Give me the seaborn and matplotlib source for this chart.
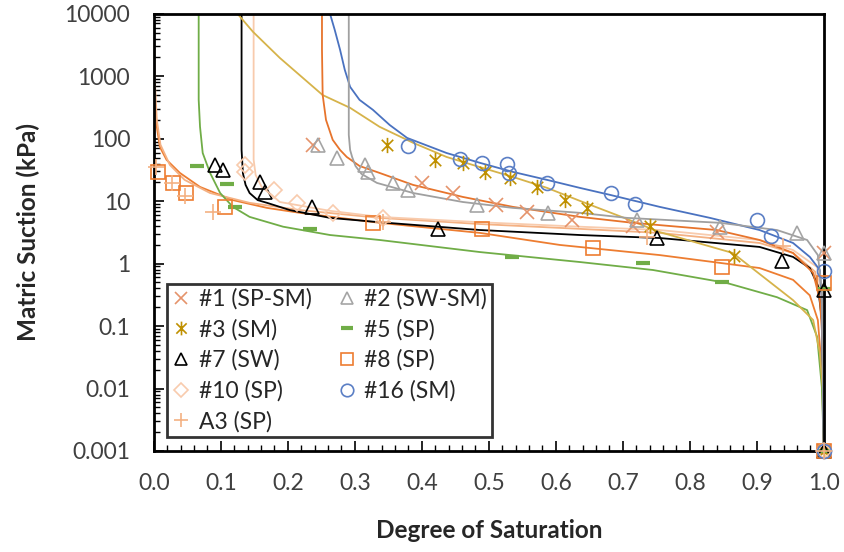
import matplotlib
matplotlib.use('Agg')
import matplotlib.pyplot as plt
from matplotlib.path import Path
from matplotlib.ticker import MultipleLocator, LogLocator, FuncFormatter, NullFormatter
import seaborn as sns

# measured points (degree of saturation, suction kPa)
s1_x = [0.237, 0.401, 0.446, 0.510, 0.557, 0.624, 0.715, 0.840, 1.0, 1.0]
s1_y = [80, 19.6, 13.5, 8.7, 6.7, 5.0, 4.0, 3.2, 1.5, 0.001]
s2_x = [0.245, 0.273, 0.315, 0.319, 0.357, 0.379, 0.482, 0.588, 0.721, 0.845, 0.960, 1.0, 1.0]
s2_y = [80, 49, 38, 29, 19.6, 15.1, 8.7, 6.5, 5.0, 3.9, 3.1, 1.5, 0.001]
s3_x = [0.348, 0.419, 0.461, 0.494, 0.531, 0.572, 0.613, 0.646, 0.740, 0.866, 1.0]
s3_y = [80, 46, 41, 29, 23.6, 16.9, 10.4, 7.8, 4.0, 1.32, 0.001]
s5_x = [0.064, 0.110, 0.121, 0.233, 0.534, 0.730, 0.848, 1.0, 1.0]
s5_y = [36.7, 18.8, 8.1, 3.6, 1.28, 1.02, 0.51, 0.39, 0.001]
s7_x = [0.091, 0.103, 0.158, 0.166, 0.236, 0.424, 0.751, 0.937, 1.0, 1.0]
s7_y = [38, 31.6, 20.3, 14, 8.1, 3.6, 2.57, 1.10, 0.38, 0.001]
s8_x = [0.006, 0.028, 0.048, 0.107, 0.327, 0.490, 0.655, 0.848, 1.0, 1.0]
s8_y = [29.4, 19.6, 13.5, 8.1, 4.5, 3.6, 1.78, 0.88, 0.49, 0.001]
s10_x = [0.136, 0.136, 0.179, 0.213, 0.267, 0.342, 1.0]
s10_y = [38, 29, 15.1, 9.4, 6.5, 5.4, 0.001]
s16_x = [0.379, 0.457, 0.490, 0.527, 0.530, 0.587, 0.682, 0.718, 0.900, 0.921, 1.0, 1.0]
s16_y = [77, 47, 41, 39.5, 28, 19.6, 13.5, 9.0, 5.0, 2.77, 0.76, 0.001]
a3_x = [0.004, 0.027, 0.046, 0.088, 0.342, 0.736, 0.939, 1.0]
a3_y = [35, 19.6, 12.1, 6.7, 4.6, 2.67, 1.91, 0.001]

# fitted curves
c1_x = [0.251, 0.251, 0.252, 0.257, 0.267, 0.278, 0.288, 0.307, 0.337, 0.387, 0.461, 0.536, 0.636, 0.715, 0.840, 0.904, 0.954, 0.984, 0.994, 1.0, 1.0]
c1_y = [10000, 2650, 504, 200, 96, 66, 51, 36.6, 28.3, 18.2, 11.7, 8.1, 5.6, 4.5, 3.45, 2.39, 1.48, 0.71, 0.26, 0.0285, 0.001]
c2_x = [0.291, 0.291, 0.291, 0.293, 0.296, 0.301, 0.310, 0.333, 0.387, 0.461, 0.536, 0.636, 0.706, 0.845, 0.930, 0.975, 0.991, 0.997, 1.0]
c2_y = [10000, 419, 115, 66, 51, 36.6, 27.3, 19.6, 13.5, 9.7, 7.8, 6.5, 5.4, 4.5, 3.45, 2.39, 1.37, 0.38, 0.001]
c3_x = [0.125, 0.148, 0.188, 0.252, 0.293, 0.337, 0.387, 0.437, 0.487, 0.536, 0.587, 0.636, 0.700, 0.755, 0.864, 0.954, 0.984, 0.994, 1.0, 1.0]
c3_y = [10000, 5150, 1970, 500, 312, 155, 86, 51, 35, 24.4, 16.3, 10.1, 5.5, 3.2, 1.48, 0.26, 0.125, 0.037, 0.0059, 0.001]
c5_x = [0.067, 0.067, 0.069, 0.073, 0.084, 0.099, 0.118, 0.143, 0.193, 0.263, 0.337, 0.487, 0.636, 0.745, 0.855, 0.930, 0.975, 0.990, 0.997, 1.0]
c5_y = [10000, 419, 155, 59, 28.3, 13.5, 8.1, 5.6, 3.9, 2.87, 2.39, 1.53, 1.06, 0.79, 0.49, 0.29, 0.18, 0.067, 0.0105, 0.001]
c7_x = [0.131, 0.131, 0.131, 0.133, 0.137, 0.143, 0.155, 0.169, 0.203, 0.263, 0.337, 0.487, 0.636, 0.755, 0.904, 0.954, 0.979, 0.991, 0.997, 1.0]
c7_y = [10000, 419, 66, 28, 18.2, 13.5, 10.4, 9.4, 7.2, 5.4, 4.6, 3.45, 2.87, 2.57, 1.85, 1.28, 0.85, 0.45, 0.125, 0.001]
c8_x = [0.0, 0.0, 0.0015, 0.0045, 0.009, 0.019, 0.039, 0.069, 0.118, 0.169, 0.218, 0.337, 0.487, 0.606, 0.755, 0.904, 0.954, 0.979, 0.991, 0.997, 1.0]
c8_y = [10000, 1830, 419, 155, 74, 46, 28.3, 16.9, 10.4, 7.8, 6.5, 4.5, 3.1, 1.99, 1.37, 0.85, 0.55, 0.31, 0.125, 0.0197, 0.001]
c10_x = [0.149, 0.149, 0.149, 0.152, 0.161, 0.176, 0.188, 0.263, 0.337, 0.487, 0.636, 0.755, 0.904, 0.954, 0.990, 0.997, 1.0]
c10_y = [10000, 419, 46, 26.3, 16.9, 12.6, 9.7, 7.0, 5.6, 4.6, 3.9, 3.45, 2.39, 1.65, 0.88, 0.26, 0.001]
c16_x = [0.263, 0.270, 0.278, 0.285, 0.293, 0.307, 0.327, 0.352, 0.378, 0.437, 0.487, 0.536, 0.587, 0.636, 0.681, 0.755, 0.830, 0.904, 0.954, 0.979, 0.994, 0.997, 1.0]
c16_y = [10000, 5540, 2650, 1270, 676, 419, 290, 166, 103, 59, 41, 29.4, 21.9, 16.3, 12.6, 8.1, 5.4, 3.45, 2.14, 1.28, 0.79, 0.26, 0.001]
ca3_x = [0.0, 0.0015, 0.0045, 0.010, 0.024, 0.046, 0.084, 0.143, 0.218, 0.337, 0.487, 0.636, 0.755, 0.904, 0.954, 0.987, 0.997, 1.0]
ca3_y = [10000, 875, 200, 80, 38, 21.9, 13.5, 9.4, 7.2, 5.4, 4.3, 3.6, 3.1, 2.14, 1.48, 0.74, 0.18, 0.001]

labels = ['#1 (SP-SM)', '#2 (SW-SM)', '#3 (SM)', '#5 (SP)', '#7 (SW)',
          '#8 (SP)', '#10 (SP)', '#16 (SM)', 'A3 (SP)']

sns.set_style('ticks')
plt.rcParams['font.family'] = ['Lato', 'DejaVu Sans']

# asterisk marker like excel: vertical bar plus an x
star = Path([(0, -1), (0, 1), (-0.75, -0.75), (0.75, 0.75), (-0.75, 0.75), (0.75, -0.75)],
            [Path.MOVETO, Path.LINETO, Path.MOVETO, Path.LINETO, Path.MOVETO, Path.LINETO])

fig, ax = plt.subplots(figsize=(8.45, 5.52), dpi=100)
fig.subplots_adjust(left=0.182, right=0.975, top=0.975, bottom=0.183)
ax.set_yscale('log')

curves = [
    (c8_x, c8_y, '#ED7D31'),
    (ca3_x, ca3_y, '#F4B183'),
    (c5_x, c5_y, '#70AD47'),
    (c7_x, c7_y, '#000000'),
    (c10_x, c10_y, '#F8CBAD'),
    (c3_x, c3_y, '#D6B34A'),
    (c1_x, c1_y, '#E7742C'),
    (c16_x, c16_y, '#4A72C0'),
    (c2_x, c2_y, '#A0A0A0'),
]
for cx, cy, col in curves:
    sns.lineplot(x=cx, y=cy, sort=False, estimator=None, color=col, lw=1.3, ax=ax)

series = {
    '#1 (SP-SM)': (s1_x, s1_y, 'x', '#E5936B', 10, 1.2),
    '#2 (SW-SM)': (s2_x, s2_y, '^', '#A5A5A5', 10, 1.2),
    '#3 (SM)': (s3_x, s3_y, star, '#BF9000', 11, 1.2),
    '#5 (SP)': (s5_x, s5_y, '_', '#70AD47', 10, 3),
    '#7 (SW)': (s7_x, s7_y, '^', '#000000', 10, 1.2),
    '#8 (SP)': (s8_x, s8_y, 's', '#ED7D31', 10, 1.2),
    '#10 (SP)': (s10_x, s10_y, 'D', '#F8CBAD', 8, 1.2),
    '#16 (SM)': (s16_x, s16_y, 'o', '#5B7FC5', 10, 1.2),
    'A3 (SP)': (a3_x, a3_y, '+', '#F4B183', 11, 1.2),
}
handles = {}
for lab in labels:
    x, y, m, col, ms, mew = series[lab]
    h, = ax.plot(x, y, ls='none', marker=m, ms=ms, mew=mew, mec=col, mfc='none',
                 color=col, clip_on=False, zorder=5)
    handles[lab] = h

ax.set_xlim(0, 1)
ax.set_ylim(0.001, 10000)
ax.xaxis.set_major_locator(MultipleLocator(0.1))
ax.xaxis.set_minor_locator(MultipleLocator(0.02))
ax.xaxis.set_major_formatter(FuncFormatter(lambda v, p: f'{v:.1f}'))
ax.yaxis.set_major_locator(LogLocator(base=10, numticks=20))
ax.yaxis.set_minor_locator(LogLocator(base=10, subs=range(2, 10), numticks=20))
ax.yaxis.set_major_formatter(FuncFormatter(lambda v, p: f'{v:g}'))
ax.yaxis.set_minor_formatter(NullFormatter())
ax.tick_params(axis='both', which='both', direction='in', labelsize=16.5,
               labelcolor='#404040', color='black')
ax.tick_params(axis='x', which='major', length=7, width=1.2, pad=16)
ax.tick_params(axis='y', which='major', length=7, width=1.2, pad=17)
ax.tick_params(axis='both', which='minor', length=4, width=1)
for sp in ax.spines.values():
    sp.set_visible(True)
    sp.set_linewidth(2)
    sp.set_color('black')

ax.set_xlabel('Degree of Saturation', fontsize=17.5, fontweight='bold', color='#262626')
ax.set_ylabel('Matric Suction (kPa)', fontsize=17.5, fontweight='bold', color='#262626')
ax.xaxis.set_label_coords(0.5, -0.155)
ax.yaxis.set_label_coords(-0.17, 0.5)

order = ['#1 (SP-SM)', '#3 (SM)', '#7 (SW)', '#10 (SP)', 'A3 (SP)',
         '#2 (SW-SM)', '#5 (SP)', '#8 (SP)', '#16 (SM)']
leg = ax.legend([handles[k] for k in order], order, ncol=2, loc='lower left',
                bbox_to_anchor=(0.019, 0.032), borderaxespad=0, fontsize=16.5,
                frameon=True, fancybox=False, handlelength=0.9, handletextpad=0.3,
                columnspacing=1.1, labelspacing=0.4, borderpad=0.2, markerscale=0.9)
leg.get_frame().set_edgecolor('black')
leg.get_frame().set_linewidth(2)
for t in leg.get_texts():
    t.set_color('#262626')

fig.savefig('out.png', dpi=100)
